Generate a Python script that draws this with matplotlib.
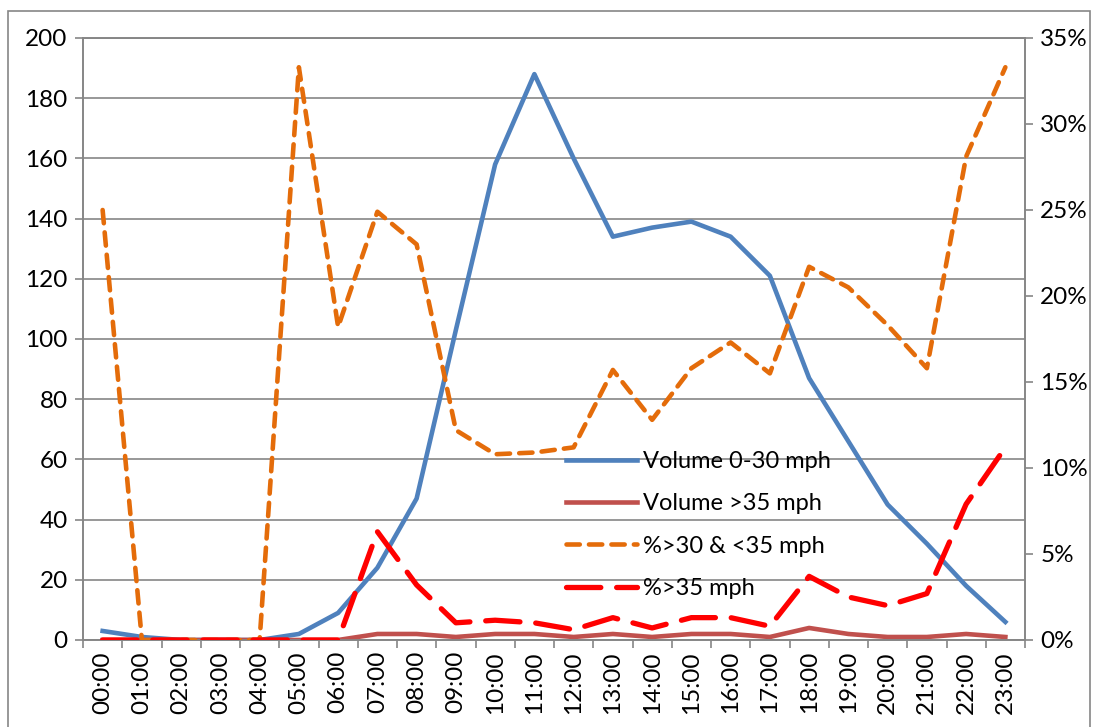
import matplotlib
matplotlib.use("Agg")
import matplotlib.pyplot as plt
from matplotlib.patches import Rectangle
from matplotlib.ticker import PercentFormatter, FixedLocator

plt.rcParams['font.family'] = ['Lato', 'DejaVu Sans']

hours = ["%02d:00" % h for h in range(24)]

vol_0_30 = [3, 1, 0, 0, 0, 2, 9, 24, 47, 103, 158, 188, 160, 134, 137, 139,
            134, 121, 87, 66, 45, 32, 18, 6]
vol_over_35 = [0, 0, 0, 0, 0, 0, 0, 2, 2, 1, 2, 2, 1, 2, 1, 2,
               2, 1, 4, 2, 1, 1, 2, 1]
pct_30_35 = [0.25, 0, 0, 0, 0, 0.333, 0.182, 0.249, 0.230, 0.122, 0.108, 0.109,
             0.112, 0.157, 0.128, 0.158, 0.173, 0.155, 0.217, 0.205, 0.183,
             0.158, 0.281, 0.333]
pct_over_35 = [0, 0, 0, 0, 0, 0, 0, 0.063, 0.032, 0.010, 0.0115, 0.010,
               0.006, 0.013, 0.007, 0.013, 0.013, 0.008, 0.037, 0.025, 0.020,
               0.027, 0.079, 0.112]

grid_col = "#868686"
fs = 17.5

fig = plt.figure(figsize=(10.97, 7.27), dpi=100)
# chart area border
fig.patches.append(Rectangle((8 / 1097, -0.05), 1082 / 1097, 1 - 11 / 727 + 0.05,
                             transform=fig.transFigure, fill=False,
                             edgecolor=grid_col, linewidth=1.2))

ax = fig.add_axes([83 / 1097, 1 - 640 / 727, (1025 - 83) / 1097, (640 - 38) / 727])
ax2 = ax.twinx()

x = list(range(24))
l1, = ax.plot(x, vol_0_30, color="#4F81BD", lw=3.3, label="Volume 0-30 mph",
              zorder=3)
l2, = ax.plot(x, vol_over_35, color="#C0504D", lw=3.3, label="Volume >35 mph",
              zorder=3)
l3, = ax2.plot(x, pct_30_35, color="#E46C0A", lw=3.3, dashes=(2.9, 2.0),
               dash_capstyle="round", label="%>30 & <35 mph", zorder=3)
l4, = ax2.plot(x, pct_over_35, color="#FF0000", lw=3.8, dashes=(6.5, 3.0),
               dash_capstyle="round", label="%>35 mph", zorder=3)

ax.set_xlim(-0.5, 23.5)
ax.set_ylim(0, 200)
ax2.set_ylim(0, 0.35)

ax.set_yticks(range(0, 201, 20))
ax.yaxis.grid(True, color=grid_col, lw=1.2)
ax.set_axisbelow(True)
ax2.set_yticks([i * 0.05 for i in range(8)])
ax2.yaxis.set_major_formatter(PercentFormatter(1.0, decimals=0))

ax.set_xticks(x)
ax.set_xticklabels(hours, rotation=90)
ax.xaxis.set_minor_locator(FixedLocator([i - 0.5 for i in range(25)]))
ax.tick_params(axis="x", which="major", length=0, pad=8, labelsize=fs)
ax.tick_params(axis="x", which="minor", length=6, width=1.2, color=grid_col)
ax.tick_params(axis="y", length=6, width=1.2, color=grid_col, labelsize=fs, pad=5)
ax2.tick_params(axis="y", length=6, width=1.2, color=grid_col, labelsize=fs, pad=5)

for a in (ax, ax2):
    for s in a.spines.values():
        s.set_color(grid_col)
        s.set_linewidth(1.2)

fig.legend(handles=[l1, l2, l3, l4], loc="center left",
           bbox_to_anchor=(566 / 1097, 1 - 525 / 727), frameon=False,
           fontsize=17, handlelength=3.0, handletextpad=0.25, labelspacing=0.9,
           borderpad=0, borderaxespad=0)

fig.savefig("out.png", dpi=100)
